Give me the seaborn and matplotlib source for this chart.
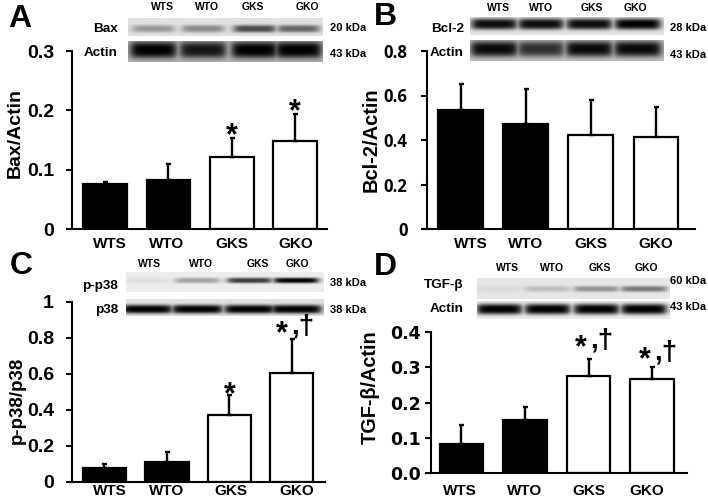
import numpy as np
import pandas as pd
import seaborn as sns
import matplotlib
matplotlib.use('Agg')
import matplotlib.pyplot as plt

sns.set_style('white')
plt.rcParams['font.family'] = ['Liberation Sans', 'DejaVu Sans']
plt.rcParams['font.weight'] = 'bold'
plt.rcParams['text.color'] = 'black'

W, H = 708, 499

groups = ['WTS', 'WTO', 'GKS', 'GKO']
group_colors = ['black', 'black', 'white', 'white']

bax_mean = [0.076, 0.083, 0.121, 0.148]
bax_err = [0.004, 0.027, 0.032, 0.045]
bcl_mean = [0.534, 0.472, 0.423, 0.414]
bcl_err = [0.119, 0.158, 0.157, 0.133]
p38_mean = [0.076, 0.110, 0.374, 0.604]
p38_err = [0.024, 0.055, 0.109, 0.190]
tgf_mean = [0.081, 0.151, 0.274, 0.267]
tgf_err = [0.054, 0.035, 0.050, 0.033]

# darkness of the bands, lane by lane
bax_band = [0.32, 0.38, 0.68, 0.55]
bax_actin = [1.0, 0.88, 1.0, 1.0]
bcl_band = [0.95, 0.95, 0.95, 1.0]
bcl_actin = [0.95, 0.75, 0.95, 0.95]
pp38_band = [0.06, 0.32, 0.75, 1.0]
p38_band = [1.0, 1.0, 1.0, 1.0]
tgf_band = [0.05, 0.18, 0.36, 0.48]
tgf_actin = [1.0, 1.0, 1.0, 1.0]


def px_axes(left, top, right, bottom):
    return fig.add_axes([left / W, 1 - bottom / H, (right - left) / W, (bottom - top) / H])


def px_text(x, y, s, **kw):
    kw.setdefault('ha', 'center')
    kw.setdefault('va', 'center')
    fig.text(x / W, 1 - y / H, s, **kw)


# blot strip drawn as a small grey image
def blot(box, lanes, dark, bg, yc, thick, half=0.105):
    left, top, right, bottom = box
    ax = px_axes(left, top, right, bottom)
    xx, yy = np.meshgrid(np.linspace(0, 1, (right - left) * 2), np.linspace(0, 1, (bottom - top) * 2))
    img = np.zeros_like(xx)
    for c, d in zip(lanes, dark):
        edge = 0.012
        prof = 1 / (1 + np.exp((np.abs(xx - c) - half) / edge))
        img = np.maximum(img, d * prof * np.exp(-np.abs((yy - yc) / thick) ** 3))
    ax.imshow(1 - (bg + (1 - bg) * img), cmap='gray', vmin=0, vmax=1, aspect='auto')
    ax.axis('off')


def bar_panel(box, means, errs, ylim, ticks, ticklabels, shift, tick_font, tick_pad, xlim, xpad):
    ax = px_axes(*box)
    df = pd.DataFrame({'group': groups, 'value': means})
    sns.barplot(data=df, x='group', y='value', hue='group', palette=dict(zip(groups, group_colors)),
                width=0.69, edgecolor='black', linewidth=1.6, dodge=False, legend=False,
                errorbar=None, ax=ax)
    ax.errorbar(range(4), means, yerr=[[0] * 4, errs], fmt='none', ecolor='black',
                elinewidth=1.7, capsize=1.8, capthick=1.7, zorder=1)
    ax.set_xlim(*xlim)
    ax.set_ylim(*ylim)
    ax.set_yticks(ticks)
    ax.set_yticklabels(ticklabels, fontsize=tick_font[1], fontfamily=tick_font[0], fontweight='bold')
    ax.set_xticks([i + s for i, s in enumerate(shift)])
    ax.set_xticklabels(groups, fontsize=11, fontweight='bold')
    ax.set_xlabel('')
    ax.set_ylabel('')
    ax.tick_params(axis='y', left=True, direction='out', length=4, width=1.5, pad=tick_pad, color='black')
    ax.tick_params(axis='x', bottom=False, pad=xpad)
    sns.despine(ax=ax)
    for side in ['left', 'bottom']:
        ax.spines[side].set_linewidth(1.5)
        ax.spines[side].set_color('black')
    for t in ax.get_xticklabels() + ax.get_yticklabels():
        t.set_color('black')
    return ax


def star(x, y):
    # y is the centre of the asterisk, the glyph sits 17 px above the baseline
    px_text(x, y + 17, '*', fontsize=22, va='baseline')


def dagger(x, base):
    px_text(x, base, ',†', fontsize=20, va='baseline', ha='left')


fig = plt.figure(figsize=(W / 100, H / 100), dpi=100)
lib = ['Liberation Sans', 'DejaVu Sans']
opn = ['Open Sans', 'DejaVu Sans']
dj = ['DejaVu Sans']

# A
bar_panel((72, 51, 327, 229), bax_mean, bax_err, (0, 0.3), [0, 0.1, 0.2, 0.3], ['0', '0.1', '0.2', '0.3'],
          [0.08, -0.03, 0, 0], (lib, 14), 9, (-0.52, 3.5), 2.4)
# B
bar_panel((427, 51, 695, 229), bcl_mean, bcl_err, (0, 0.8), [0, 0.2, 0.4, 0.6, 0.8], ['0', '0.2', '0.4', '0.6', '0.8'],
          [0.16, 0, 0, 0], (opn, 12), 10, (-0.52, 3.6), 2.4)
# C
bar_panel((72, 302, 325, 482), p38_mean, p38_err, (0, 1), [0, 0.2, 0.4, 0.6, 0.8, 1], ['0', '0.2', '0.4', '0.6', '0.8', '1'],
          [0.08, 0, 0.03, 0.07], (lib, 14), 9, (-0.52, 3.53), -2.2)
# D
bar_panel((431, 332, 687, 473), tgf_mean, tgf_err, (0, 0.4), [0, 0.1, 0.2, 0.3, 0.4], ['0.0', '0.1', '0.2', '0.3', '0.4'],
          [-0.02, 0, 0, -0.09], (dj, 12.5), 3.5, (-0.48, 3.55), 4.6)

# blots
lanes_a = [0.13, 0.385, 0.65, 0.875]
blot((128, 18, 323, 36), lanes_a, bax_band, 0.12, 0.62, 0.2)
blot((128, 41, 323, 62), lanes_a, bax_actin, 0.3, 0.42, 0.4, half=0.115)
lanes_b = [0.125, 0.365, 0.615, 0.865]
blot((470, 17, 664, 35), lanes_b, bcl_band, 0.1, 0.42, 0.3, half=0.115)
blot((470, 40, 664, 61), lanes_b, bcl_actin, 0.25, 0.42, 0.38, half=0.118)
lanes_c = [0.105, 0.36, 0.625, 0.86]
blot((126, 272, 324, 292), lanes_c, pp38_band, 0.07, 0.42, 0.14, half=0.11)
blot((126, 299, 324, 316), lanes_c, p38_band, 0.12, 0.6, 0.26, half=0.125)
lanes_d = [0.115, 0.365, 0.62, 0.865]
blot((477, 278, 670, 299), lanes_d, tgf_band, 0.1, 0.52, 0.14, half=0.115)
blot((477, 301, 670, 319), lanes_d, tgf_actin, 0.08, 0.45, 0.3, half=0.115)

# axis titles, drawn in pixels because the positions differ per panel
px_text(15, 133, 'Bax/Actin', rotation=90, fontsize=14)
px_text(371, 140, 'Bcl-2/Actin', rotation=90, fontsize=14.5)
px_text(17, 400, 'p-p38/p38', rotation=90, fontsize=13.5)
px_text(370, 387, 'TGF-β/Actin', rotation=90, fontsize=14.3)

# panel letters
for x, y, s in [(20, 19, 'A'), (385, 17, 'B'), (21, 266, 'C'), (385, 267, 'D')]:
    px_text(x, y, s, fontsize=23)

# lane labels above the blots
for xs, y in [((162, 207, 253, 307), 7), ((498, 541, 592, 635), 8), ((149, 201, 258, 297), 264), ((507, 552, 600, 646), 268)]:
    for x, g in zip(xs, groups):
        px_text(x, y, g, fontsize=7.5)

# names left of the blots
for x, y, s in [(118, 29, 'Bax'), (118, 53, 'Actin'), (464, 29, 'Bcl-2'), (464, 53, 'Actin'),
                (118, 286, 'p-p38'), (118, 310, 'p38'), (464, 285, 'TGF-β'), (464, 309, 'Actin')]:
    px_text(x, y, s, fontsize=9.7, ha='right')

# molecular weights right of the blots
for x, y, s in [(330, 28, '20 kDa'), (330, 54, '43 kDa'), (670, 28, '28 kDa'), (670, 55, '43 kDa'),
                (330, 283, '38 kDa'), (330, 310, '38 kDa'), (670, 281, '60 kDa'), (670, 307, '43 kDa')]:
    px_text(x, y, s, fontsize=8, ha='left')

# significance marks
star(232, 127)
star(295, 103)
star(230, 386)
star(282, 325)
dagger(291, 333)
star(581, 339)
dagger(590, 348)
star(645, 351)
dagger(654, 359)

fig.savefig('out.png', dpi=100)
